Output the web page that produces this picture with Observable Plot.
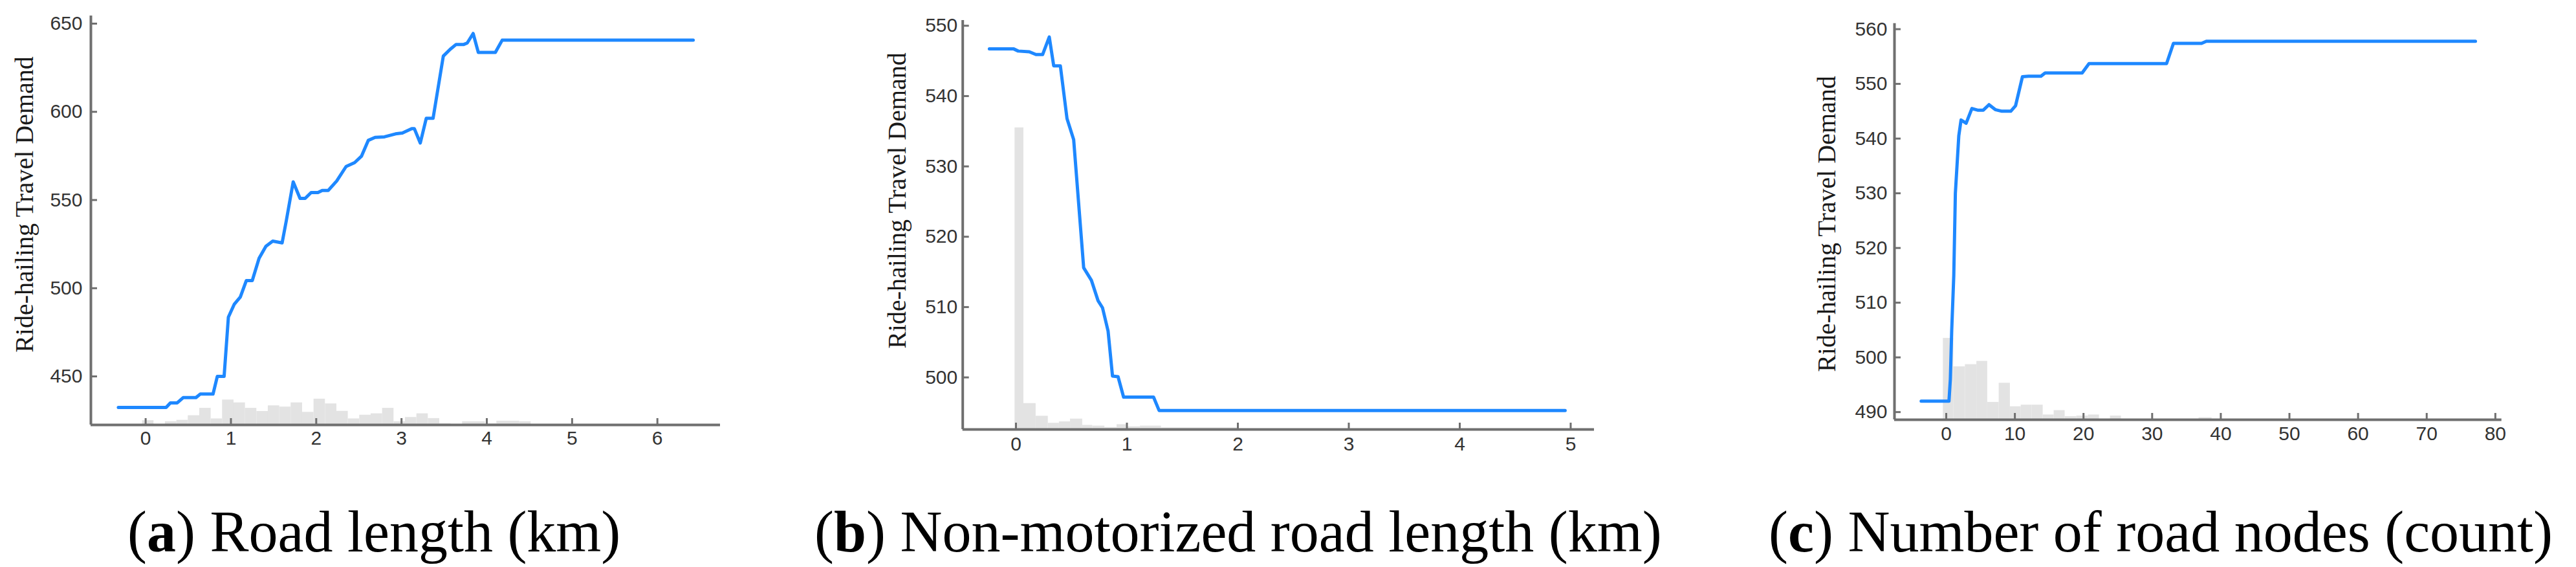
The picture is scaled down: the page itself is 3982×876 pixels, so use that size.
<!DOCTYPE html>
<html><head><meta charset="utf-8">
<script src="https://cdn.jsdelivr.net/npm/d3@7"></script>
<script src="https://cdn.jsdelivr.net/npm/@observablehq/plot@0.6"></script>
<style>
html,body{margin:0;padding:0;background:#fff;}
#root{position:relative;width:3982px;height:876px;overflow:hidden;background:#fff;}
.panel{position:absolute;top:0;}
.ylab{position:absolute;font-family:"Liberation Serif","Times New Roman",serif;font-size:40px;line-height:1;white-space:nowrap;color:#1a1a1a;transform:translate(-50%,-50%) rotate(-90deg);}
.cap{position:absolute;font-family:"Liberation Serif","Times New Roman",serif;font-size:90px;line-height:1;white-space:nowrap;color:#000;}
</style></head><body><div id="root"></div>
<script>
// ---------- data ----------
const yLabel = "Ride-hailing Travel Demand";
const captionLetters = ["a", "b", "c"];
const captionTexts = ["Road length (km)", "Non-motorized road length (km)", "Number of road nodes (count)"];

// (a) Road length (km)
const aX = [-0.32,0.24,0.29,0.37,0.44,0.59,0.64,0.79,0.84,0.92,0.97,1.04,1.11,1.18,1.25,1.33,1.41,1.49,1.60,1.65,1.73,1.81,1.87,1.94,2.02,2.07,2.14,2.24,2.35,2.45,2.53,2.61,2.69,2.80,2.93,3.01,3.12,3.15,3.22,3.29,3.37,3.49,3.57,3.64,3.73,3.77,3.84,3.90,4.10,4.18,6.42];
const aY = [432.4,432.4,435,435,438,438,440,440,450,450,483.6,491,495,504.3,504.3,517,523.8,526.7,525.7,538.5,560.3,550.9,550.9,554.2,554.2,555.4,555.4,560.8,569,571.2,574.8,583.8,585.5,585.8,587.5,588,590.5,590.5,582.3,596.3,596.3,631.6,635.4,638.2,638.2,639,644.4,633.7,633.7,640.6,640.6];
const aBinWidth = 0.134;
const aBinLo = [-0.038,0.230,0.364,0.498,0.632,0.766,0.900,1.034,1.168,1.302,1.436,1.570,1.704,1.838,1.972,2.106,2.240,2.374,2.508,2.642,2.776,2.910,3.044,3.178,3.312,3.446,3.714,3.848,3.982,4.116,4.250,4.384];
const aBinTop = [425.0,424.4,425.2,427.8,432.0,426.0,436.7,435.1,432.0,430.2,433.4,432.7,435.1,429.7,437.2,434.5,430.3,426.0,428.1,428.9,432.0,424.4,426.8,428.9,426.2,423.2,424.4,424.4,423.2,424.7,424.7,424.4];
const aXTicks = [0,1,2,3,4,5,6];
const aYTicks = [450,500,550,600,650];

// (b) Non-motorized road length (km)
const bX = [-0.24,-0.02,0.02,0.12,0.18,0.24,0.30,0.34,0.40,0.46,0.52,0.61,0.68,0.74,0.78,0.83,0.87,0.92,0.97,1.24,1.29,4.95];
const bY = [546.7,546.7,546.4,546.3,545.9,545.9,548.4,544.3,544.3,536.8,533.8,515.6,513.8,510.9,509.9,506.6,500.2,500.1,497.2,497.2,495.3,495.3];
const bBinLo = [-0.01,0.07,0.18,0.29,0.39,0.49,0.60,0.69,0.80,0.91,1.00,1.12,1.31];
const bBinHi = [0.07,0.18,0.29,0.39,0.49,0.60,0.69,0.80,0.91,1.00,1.12,1.31,2.00];
const bBinTop = [535.5,496.3,494.5,493.5,493.7,494.1,493.2,493.1,492.9,493.3,493.0,493.1,492.85];
const bXTicks = [0,1,2,3,4,5];
const bYTicks = [500,510,520,530,540,550];

// (c) Number of road nodes (count)
const cX = [-3.65,0.4,0.6,0.8,1.1,1.33,1.83,2.16,2.9,3.74,4.57,5.4,6.23,7.14,8.1,9.4,10.1,11.1,12.0,13.8,14.4,19.8,20.8,32.1,33.1,37.2,37.9,77.1];
const cY = [492,492,496,505,515,530,540.5,543.4,542.8,545.5,545.2,545.2,546.2,545.3,545,545,546,551.3,551.4,551.4,552,552,553.7,553.7,557.4,557.4,557.8,557.8];
const cBinLo = [-0.44,1.07,2.77,4.44,6.02,7.69,9.32,10.9,12.5,14.1,15.7,17.3,19.0,20.7,23.9,36.8];
const cBinHi = [1.07,2.77,4.44,6.02,7.69,9.32,10.9,12.5,14.1,15.7,17.3,19.0,20.7,22.3,25.5,38.7];
const cBinTop = [503.5,498.3,498.7,499.3,491.8,495.3,491.0,491.3,491.3,489.5,490.3,489.2,489.3,489.5,489.3,489.0];
const cXTicks = [0,10,20,30,40,50,60,70,80];
const cYTicks = [490,500,510,520,530,540,550,560];

// ---------- layout ----------
const root = document.getElementById("root");
const lineColor = "#1e88ff";
const histColor = "#e3e3e3";
const axisColor = "#6f6f6f";
const tickFont = '"Liberation Sans Narrow","Arial Narrow","Liberation Sans",Arial,sans-serif';

const panels = [
  {xs:aX, ys:aY, lo:aBinLo, hi:aBinLo.map(v => v + aBinWidth), top:aBinTop, xt:aXTicks, yt:aYTicks,
   left:0, width:1160, mL:140, mR:47, mT:24, mB:64, xd:[-0.642,6.738], yd:[422.5,654.4], padY:23, padX:19,
   lab:[38,316], cap:197},
  {xs:bX, ys:bY, lo:bBinLo, hi:bBinHi, top:bBinTop, xt:bXTicks, yt:bYTicks,
   left:1300, width:1210, mL:187.7, mR:46, mT:31, mB:57, xd:[-0.48,5.213], yd:[492.6,550.76], padY:18, padX:21,
   lab:[1387,310], cap:1259},
  {xs:cX, ys:cY, lo:cBinLo, hi:cBinHi, top:cBinTop, xt:cXTicks, yt:cYTicks,
   left:2750, width:1180, mL:178, mR:63.3, mT:35.7, mB:72, xd:[-7.54,80.93], yd:[488.6,561.05], padY:21, padX:20,
   lab:[2824,346], cap:2734}
];

panels.forEach((p, i) => {
  const line = p.xs.map((x, k) => ({x, y: p.ys[k]}));
  const hist = p.lo.map((lo, k) => ({lo, hi: p.hi[k], base: p.yd[0], top: p.top[k]}));
  const chart = Plot.plot({
    width: p.width, height: 720,
    marginLeft: p.mL, marginRight: p.mR, marginTop: p.mT, marginBottom: p.mB,
    x: {domain: p.xd},
    y: {domain: p.yd},
    style: {background: "transparent", overflow: "visible", fontFamily: tickFont, fontSize: "30px", color: "#333"},
    marks: [
      Plot.rect(hist, {x1: "lo", x2: "hi", y1: "base", y2: "top", fill: histColor}),
      Plot.line(line, {x: "x", y: "y", stroke: lineColor, strokeWidth: 5, strokeLinejoin: "round"}),
      Plot.ruleX([p.xd[0]], {stroke: axisColor, strokeWidth: 4}),
      Plot.ruleY([p.yd[0]], {stroke: axisColor, strokeWidth: 4}),
      Plot.axisX({ticks: p.xt, tickFormat: d => String(d), tickSize: -10, tickPadding: p.padX, stroke: axisColor, strokeWidth: 3, fill: "#333", fontSize: 30, label: null}),
      Plot.axisY({ticks: p.yt, tickFormat: d => String(d), tickSize: -10, tickPadding: p.padY, stroke: axisColor, strokeWidth: 3, fill: "#333", fontSize: 30, label: null})
    ]
  });
  const wrap = document.createElement("div");
  wrap.className = "panel";
  wrap.style.left = p.left + "px";
  wrap.appendChild(chart);
  root.appendChild(wrap);

  const lab = document.createElement("div");
  lab.className = "ylab";
  lab.style.left = p.lab[0] + "px";
  lab.style.top = p.lab[1] + "px";
  lab.textContent = yLabel;
  root.appendChild(lab);

  const cap = document.createElement("div");
  cap.className = "cap";
  cap.style.left = p.cap + "px";
  cap.style.top = "777px";
  cap.innerHTML = "(<b>" + captionLetters[i] + "</b>) " + captionTexts[i];
  root.appendChild(cap);
});
</script>
</body></html>
